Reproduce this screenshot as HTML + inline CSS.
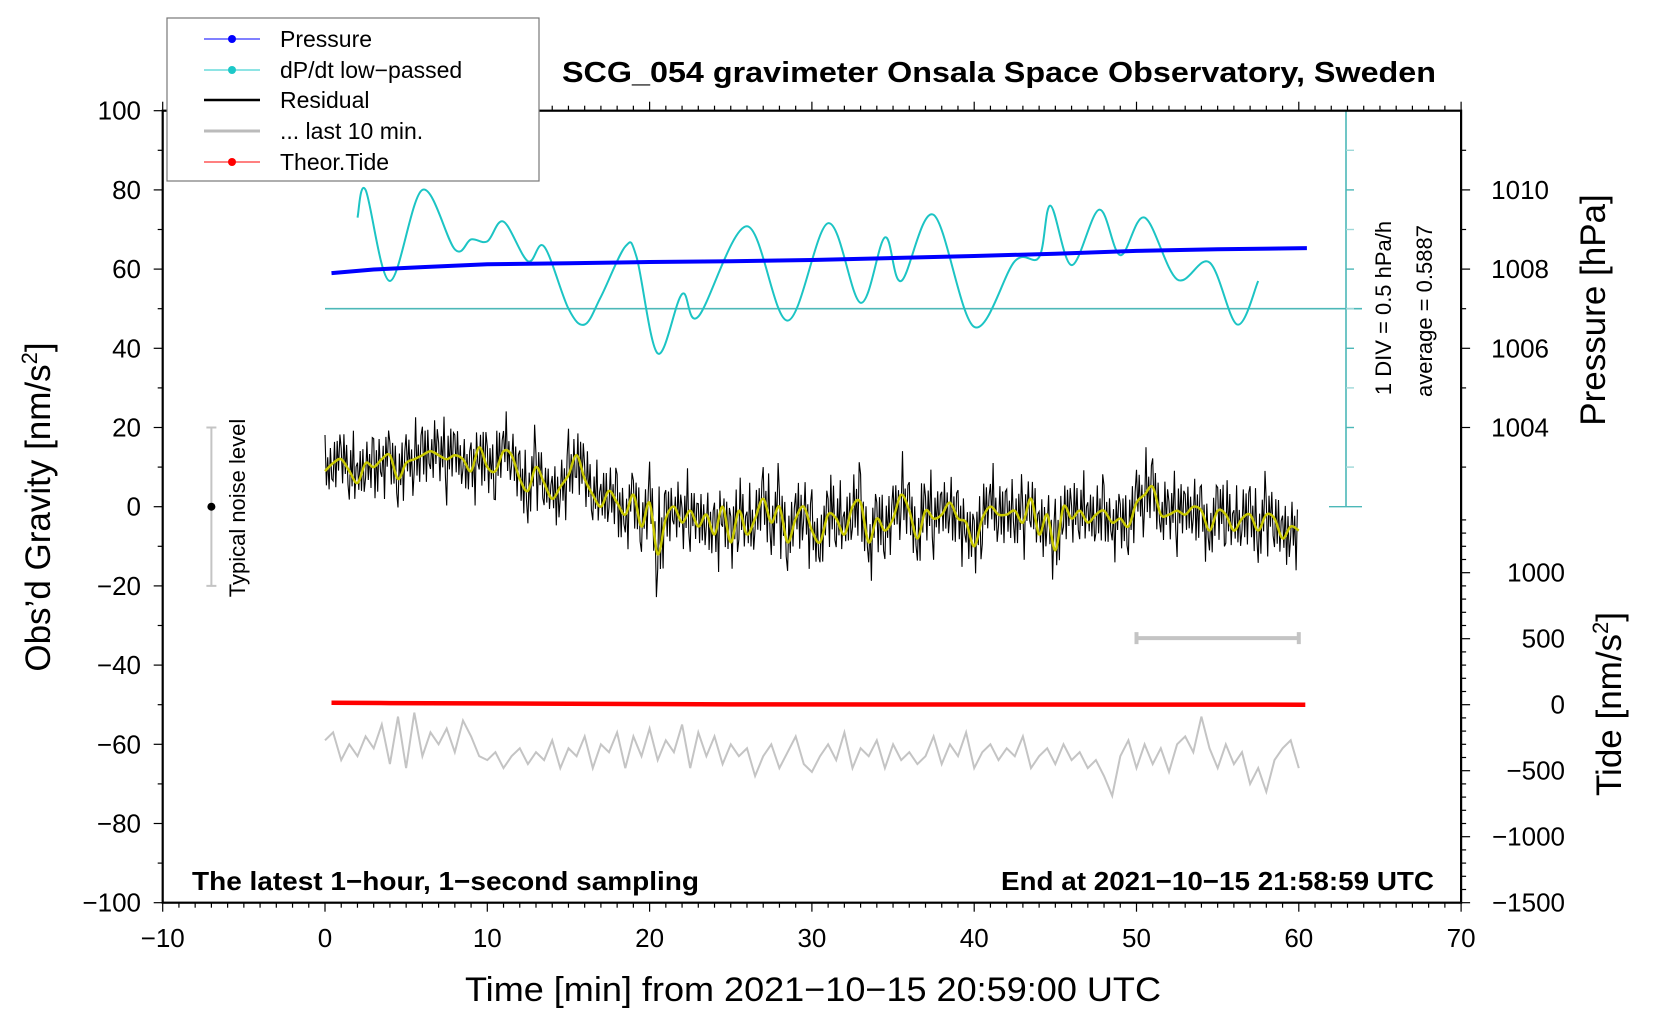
<!DOCTYPE html>
<html><head><meta charset="utf-8">
<style>
html,body{margin:0;padding:0;background:#fff;}
svg{display:block;font-family:"Liberation Sans",sans-serif;}
</style></head>
<body>
<svg id="chart" width="1660" height="1020" viewBox="0 0 1660 1020" xmlns="http://www.w3.org/2000/svg">
<rect width="1660" height="1020" fill="#fff"/>
<g id="plot"></g>
<g id="axes"></g>
<text x="562" y="82" font-size="29" font-weight="bold" textLength="874" lengthAdjust="spacingAndGlyphs">SCG_054 gravimeter Onsala Space Observatory, Sweden</text>
<text x="192" y="890" font-size="26" font-weight="bold" textLength="507" lengthAdjust="spacingAndGlyphs">The latest 1−hour, 1−second sampling</text>
<text x="1434" y="890" font-size="26" font-weight="bold" text-anchor="end" textLength="433" lengthAdjust="spacingAndGlyphs">End at 2021−10−15 21:58:59 UTC</text>
<text x="813" y="1001" font-size="34" text-anchor="middle" textLength="696" lengthAdjust="spacingAndGlyphs">Time [min] from 2021−10−15 20:59:00 UTC</text>
<text transform="translate(50,507) rotate(-90)" font-size="35" text-anchor="middle">Obs’d Gravity [nm/s<tspan font-size="22" dy="-13">2</tspan><tspan dy="13">]</tspan></text>
<text transform="translate(1605,310) rotate(-90)" font-size="35" text-anchor="middle">Pressure [hPa]</text>
<text transform="translate(1621,704) rotate(-90)" font-size="35" text-anchor="middle">Tide [nm/s<tspan font-size="22" dy="-13">2</tspan><tspan dy="13">]</tspan></text>
<text transform="translate(1391,308) rotate(-90)" font-size="22" text-anchor="middle">1 DIV = 0.5 hPa/h</text>
<text transform="translate(1432,311) rotate(-90)" font-size="22" text-anchor="middle">average = 0.5887</text>
<text transform="translate(245,508) rotate(-90)" font-size="22" text-anchor="middle">Typical noise level</text>
<g id="legend">
<rect x="167" y="18" width="372" height="163" fill="#fff" stroke="#777" stroke-width="1.2"/>
<g><line x1="204" y1="39" x2="260" y2="39" stroke="#00f" stroke-width="1"/><circle cx="232" cy="39" r="4" fill="#00f"/><text x="280" y="47" font-size="23">Pressure</text></g>
<g><line x1="204" y1="70" x2="260" y2="70" stroke="#1cc8c8" stroke-width="1"/><circle cx="232" cy="70" r="4" fill="#1cc8c8"/><text x="280" y="78" font-size="23">dP/dt low−passed</text></g>
<g><line x1="204" y1="100" x2="260" y2="100" stroke="#000" stroke-width="2.5"/><text x="280" y="108" font-size="23">Residual</text></g>
<g><line x1="204" y1="131" x2="260" y2="131" stroke="#bbb" stroke-width="3"/><text x="280" y="139" font-size="23">... last 10 min.</text></g>
<g><line x1="204" y1="162" x2="260" y2="162" stroke="#f00" stroke-width="1"/><circle cx="232" cy="162" r="4" fill="#f00"/><text x="280" y="170" font-size="23">Theor.Tide</text></g>
</g>
</svg>
<script>
// ---- data ----
const xTicks = [-10,0,10,20,30,40,50,60,70];
const yTicks = [-100,-80,-60,-40,-20,0,20,40,60,80,100];
const pressureTicks = [1004,1006,1008,1010];
const tideTicks = [-1500,-1000,-500,0,500,1000];
const dpdtTimes = [2,2.5,4,6,8,9,10,11,12.5,13.5,15,16,17,18.5,19.2,20.5,22,23,26,28.5,31,33,34.5,35.5,37.5,40,42.5,44,44.7,46,47.7,49,50.5,52.5,54.5,56.2,57.5];
const dpdtValues = [73,80,57,80,65,67.5,67,72,62,65.7,50,46,53,65.7,63,38.7,53.7,48,70.8,47,71.6,51.5,68,57,73.7,45.4,62,63,76,61,75,63.5,73,57.4,61.7,46,57];
const pressureTimes = [0.4,3,6,10,15,20,25,30,35,40,45,50,55,60.5];
const pressureValues = [1007.9,1007.99,1008.05,1008.12,1008.15,1008.18,1008.2,1008.23,1008.28,1008.33,1008.39,1008.46,1008.5,1008.53];
const tideTimes = [0.4,4,13,25,60.4];
const tideValues = [15,12,8,2,0];
// residual smoothed (yellow), every 0.5 min from t=0
const residualSmooth = [9,11,12,9,6,11,10,12,13,7,11,12,13,14,13,12,13,12,9,15,10,9,14,13,7,4,10,6,2,5,8,13,7,3,0,4,1,-2,3,-5,1,-12,-3,0,-4,-1,-5,-2,-7,0,-9,-1,-7,-3,2,-4,0,-9,-3,0,-6,-9,-2,-3,-7,0,1,-9,-3,-6,-3,3,-1,-8,-1,-3,-2,1,-3,-4,-10,-3,0,-2,-2,-1,-4,2,-7,-2,-11,0,-3,-1,-4,-2,-1,-4,-3,-5,1,3,5,-2,-2,-1,-2,0,-1,-6,-1,-2,-6,-3,-2,-6,-2,-3,-8,-5,-6];
// residual noise amplitude around smooth curve
const residualAmp = [7,8,7,9,8,7,9,8,8,9,7,8,9,8,8,9,8,7,9,10,8,9,8,8,9,9,8,7,9,8,9,10,8,8,9,8,9,8,9,8,10,12,9,8,9,8,9,8,10,9,10,9,9,8,10,9,9,9,10,9,8,9,10,9,9,10,9,9,10,9,8,9,9,10,9,8,9,9,9,9,10,8,9,9,8,9,8,9,9,8,10,9,8,9,8,9,8,8,9,9,8,9,9,8,8,9,8,9,8,9,9,9,8,9,9,9,8,9,9,8,8];
// last 10 minutes residual stretched over 0..60, every 0.5 min
const last10Values = [-59,-57,-64,-60,-63,-58,-61,-55,-65,-53,-66,-52,-63,-57,-60,-56,-62,-54,-58,-63,-64,-62,-66,-63,-61,-65,-62,-64,-59,-66,-61,-63,-58,-66,-60,-62,-57,-66,-58,-63,-56,-64,-59,-62,-55,-66,-57,-63,-58,-65,-60,-63,-61,-68,-63,-60,-66,-62,-58,-65,-67,-63,-60,-64,-57,-66,-61,-63,-59,-66,-60,-64,-62,-65,-63,-58,-65,-60,-63,-57,-66,-62,-60,-64,-61,-63,-58,-66,-63,-61,-65,-60,-64,-62,-66,-64,-68,-73,-63,-59,-66,-60,-65,-61,-67,-60,-58,-62,-53,-61,-66,-60,-65,-62,-70,-66,-72,-64,-61,-59,-66];
const noiseBar = [-7,-20,20];
const last10Bar = [50,60,-33.2];
const dpdtZero = 50;

// ---- axes functions ----
const X = t => 325 + t*16.23;
const Y = g => 506.7 - g*3.96;
const P2G = p => 80 + (p-1010)*10;
const T2G = td => -50 + td/30;
const NS = 'http://www.w3.org/2000/svg';
const plot = document.getElementById('plot');
const axes = document.getElementById('axes');
function mk(tag, attrs, parent){
  const e = document.createElementNS(NS, tag);
  for (const k in attrs) e.setAttribute(k, attrs[k]);
  parent.appendChild(e);
  return e;
}
function smoothPath(pts){
  let d = 'M'+pts[0][0].toFixed(1)+','+pts[0][1].toFixed(1);
  for (let i=0;i<pts.length-1;i++){
    const p0=pts[Math.max(0,i-1)],p1=pts[i],p2=pts[i+1],p3=pts[Math.min(pts.length-1,i+2)];
    const c1=[p1[0]+(p2[0]-p0[0])/6,p1[1]+(p2[1]-p0[1])/6];
    const c2=[p2[0]-(p3[0]-p1[0])/6,p2[1]-(p3[1]-p1[1])/6];
    d+=' C'+c1[0].toFixed(1)+','+c1[1].toFixed(1)+' '+c2[0].toFixed(1)+','+c2[1].toFixed(1)+' '+p2[0].toFixed(1)+','+p2[1].toFixed(1);
  }
  return d;
}

let el;
el = mk('line',{x1:X(0),y1:Y(dpdtZero),x2:1362,y2:Y(dpdtZero),stroke:'#4cb8b8','stroke-width':1.6},plot);


el = mk('line',{x1:1346,y1:Y(100),x2:1346,y2:Y(0),stroke:'#4cb8b8','stroke-width':1.6},plot);


for (let g=0; g<=100; g+=10){
  const cap = (g===0||g===100);
  el = mk('line',{x1:cap?1329:1346,y1:Y(g),x2:cap?1362:1354,y2:Y(g),stroke:(g/10)%2?'#9ed8d8':'#4cb8b8','stroke-width':1.4},plot);
  
  
}

let d='';
last10Values.forEach((v,i)=>{ d += (i?'L':'M')+X(i*0.5).toFixed(1)+','+Y(v).toFixed(1); });
el = mk('path',{d:d,fill:'none',stroke:'#c4c4c4','stroke-width':2},plot);



el = mk('path',{d:'M'+X(last10Bar[0])+','+Y(last10Bar[2])+'H'+X(last10Bar[1])+'M'+X(last10Bar[0])+','+(Y(last10Bar[2])-6)+'v12M'+X(last10Bar[1])+','+(Y(last10Bar[2])-6)+'v12',stroke:'#c4c4c4','stroke-width':4,fill:'none'},plot);



el = mk('path',{d:'M'+X(noiseBar[0])+','+Y(noiseBar[1])+'V'+Y(noiseBar[2])+'M'+(X(noiseBar[0])-5)+','+Y(noiseBar[1])+'h10M'+(X(noiseBar[0])-5)+','+Y(noiseBar[2])+'h10',stroke:'#c4c4c4','stroke-width':2,fill:'none'},plot);


el = mk('circle',{cx:X(noiseBar[0]),cy:Y(0),r:4,fill:'#000'},plot);



const pattern=[1,-0.7,0.5,-1,0.8,-0.4];
d='';
let first=true;
residualSmooth.forEach((v,i)=>{
  if(i===residualSmooth.length-1) return;
  const nxt=residualSmooth[i+1], a=residualAmp[i];
  for(let k=0;k<6;k++){
    const f=k/6, t=(i+f)*0.5;
    const base=v+(nxt-v)*f;
    const yv=base+a*pattern[(k+i)%6]*(((i*7+k*3)%5===0)?1.3:0.8);
    d+=(first?'M':'L')+X(t).toFixed(1)+','+Y(yv).toFixed(1); first=false;
  }
});
el = mk('path',{d:d,fill:'none',stroke:'#000','stroke-width':1.1},plot);



el = mk('path',{d:smoothPath(residualSmooth.map((v,i)=>[X(i*0.5),Y(v)])),fill:'none',stroke:'#c8c800','stroke-width':2.5},plot);



el = mk('path',{d:smoothPath(dpdtTimes.map((t,i)=>[X(t),Y(dpdtValues[i])])),fill:'none',stroke:'#1cc4c4','stroke-width':2},plot);



d='';
pressureTimes.forEach((t,i)=>{ d+=(i?'L':'M')+X(t).toFixed(1)+','+Y(P2G(pressureValues[i])).toFixed(1); });
el = mk('path',{d:d,fill:'none',stroke:'#0000ff','stroke-width':4,'stroke-linejoin':'round'},plot);



d='';
tideTimes.forEach((t,i)=>{ d+=(i?'L':'M')+X(t).toFixed(1)+','+Y(T2G(tideValues[i])).toFixed(1); });
el = mk('path',{d:d,fill:'none',stroke:'#ff0000','stroke-width':4.5},plot);



el = mk('rect',{x:X(-10),y:Y(100),width:X(70)-X(-10),height:Y(-100)-Y(100),fill:'none',stroke:'#000','stroke-width':2.2},axes);



for(let t=-10;t<=70;t++){
  const major=t%10===0, L=major?9:5;
  el = mk('line',{x1:X(t),y1:Y(-100),x2:X(t),y2:Y(-100)+L,stroke:'#000','stroke-width':1.2},axes);
  
  
  el = mk('line',{x1:X(t),y1:Y(100),x2:X(t),y2:Y(100)-L,stroke:'#000','stroke-width':1.2},axes);
  
  
}
xTicks.forEach(t=>{
  el = mk('text',{x:X(t),y:947,'font-size':26,'text-anchor':'middle'},axes);
  el.textContent = t<0 ? '−'+Math.abs(t) : String(t);
  
  
});
for(let g=-100;g<=100;g+=10){
  el = mk('line',{x1:X(-10),y1:Y(g),x2:X(-10)-(g%20===0?9:5),y2:Y(g),stroke:'#000','stroke-width':1.2},axes);
  
  
}
yTicks.forEach(g=>{
  el = mk('text',{x:141,y:Y(g)+9,'font-size':26,'text-anchor':'end'},axes);
  el.textContent = g<0 ? '−'+Math.abs(g) : String(g);
  
  
});
for(let p=1003;p<=1011;p++){
  el = mk('line',{x1:X(70),y1:Y(P2G(p)),x2:X(70)+(p%2===0?9:5),y2:Y(P2G(p)),stroke:'#000','stroke-width':1.2},axes);
  
  
}
pressureTicks.forEach(p=>{
  el = mk('text',{x:1549,y:Y(P2G(p))+9,'font-size':26,'text-anchor':'end'},axes);
  el.textContent = String(p);
  
  
});
for(let td=-1500;td<=1400;td+=100){
  el = mk('line',{x1:X(70),y1:Y(T2G(td)),x2:X(70)+(td%500===0?9:5),y2:Y(T2G(td)),stroke:'#000','stroke-width':1.2},axes);
  
  
}
tideTicks.forEach(td=>{
  el = mk('text',{x:1565,y:Y(T2G(td))+9,'font-size':26,'text-anchor':'end'},axes);
  el.textContent = td<0 ? '−'+Math.abs(td) : String(td);
  
  
});
</script>
</body></html>
